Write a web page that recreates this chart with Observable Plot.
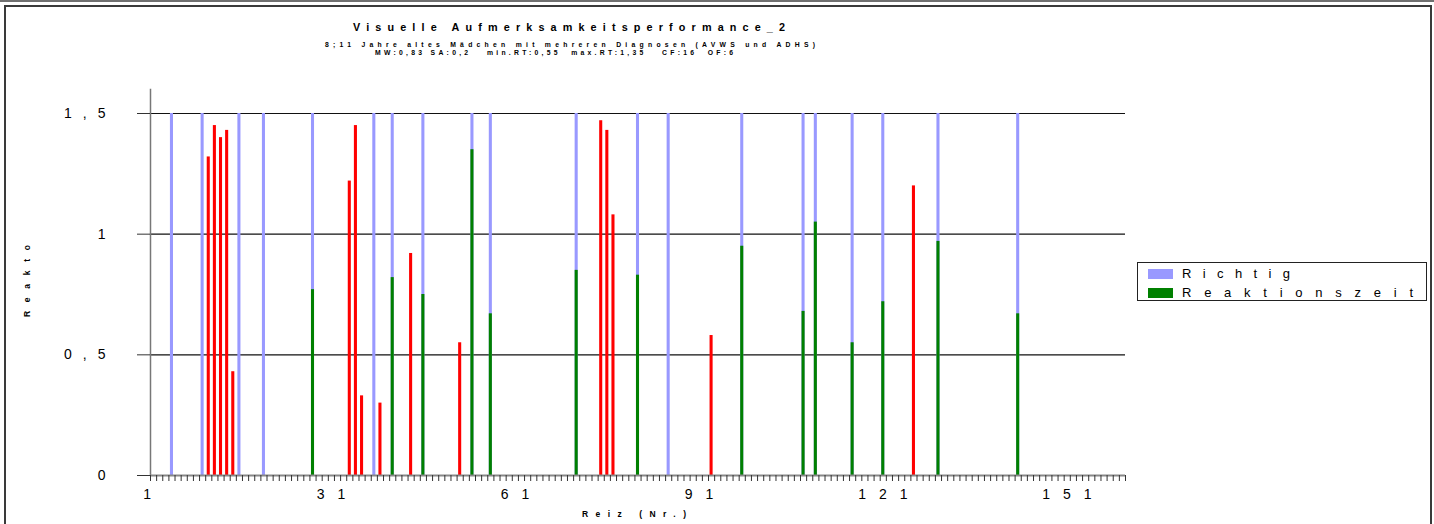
<!DOCTYPE html>
<html><head><meta charset="utf-8">
<script src="https://cdn.jsdelivr.net/npm/d3@7"></script>
<script src="https://cdn.jsdelivr.net/npm/@observablehq/plot@0.6"></script>
<style>
html,body{margin:0;padding:0;background:#fff;}
body{width:1434px;height:524px;position:relative;overflow:hidden;font-family:"Liberation Sans",Arial,sans-serif;color:#000;}
.t{position:absolute;white-space:pre;line-height:1;}
.b{font-weight:bold;}
#chart{position:absolute;left:0;top:0;}
</style></head><body>
<div id="chart"></div>
<div style="position:absolute;left:0;top:0;width:1434px;height:2px;background:#707070"></div>
<div style="position:absolute;left:4px;top:5px;width:1424px;height:600px;border:2px solid #3a3a3a;pointer-events:none"></div>
<script>
// ---- Texte ----
const titel = "Visuelle Aufmerksamkeitsperformance_2";
const untertitel = "8;11 Jahre altes Mädchen mit mehreren Diagnosen (AVWS und ADHS)";
const kennwerte = "MW:0,83 SA:0,2   min.RT:0,55  max.RT:1,35   CF:16  OF:6";
const yTitel = "Reakto";
const xTitel = "Reiz (Nr.)";
// ---- Serien ----
const serienNamen = ["Richtig", "Reaktionszeit"];
const serienFarben = ["#9999FF", "#008000"];
const fehlerFarbe = "#FF0000";
// ---- Achsen ----
const reizAnzahl = 159;
const xTickWerte = [1, 31, 61, 91, 121, 151];
const yTickWerte = [0, 0.5, 1, 1.5];
// ---- Daten ----
const richtigNr   = [4, 9, 15, 19, 27, 37, 40, 45, 53, 56, 70, 80, 85, 97, 107, 109, 115, 120, 129, 142];
const richtigWert = [1.5, 1.5, 1.5, 1.5, 1.5, 1.5, 1.5, 1.5, 1.5, 1.5, 1.5, 1.5, 1.5, 1.5, 1.5, 1.5, 1.5, 1.5, 1.5, 1.5];
const reaktionNr    = [27, 40, 45, 53, 56, 70, 80, 97, 107, 109, 115, 120, 129, 142];
const reaktionszeit = [0.77, 0.82, 0.75, 1.35, 0.67, 0.85, 0.83, 0.95, 0.68, 1.05, 0.55, 0.72, 0.97, 0.67];
const fehlerNr = [10, 11, 12, 13, 14, 33, 34, 35, 38, 43, 51, 74, 75, 76, 92, 125];
const fehlerRT = [1.32, 1.45, 1.40, 1.43, 0.43, 1.22, 1.45, 0.33, 0.30, 0.92, 0.55, 1.47, 1.43, 1.08, 0.58, 1.20];

const richtig = richtigNr.map((nr, i) => ({nr, v: richtigWert[i]}));
const reaktion = reaktionNr.map((nr, i) => ({nr, v: reaktionszeit[i]}));
const fehler = fehlerNr.map((nr, i) => ({nr, v: fehlerRT[i]}));
const halb = 0.25;
const barOpts = (fill) => ({x1: d => d.nr - halb, x2: d => d.nr + halb, y1: 0, y2: "v", fill});

const plot = Plot.plot({
  width: 1434, height: 524,
  marginLeft: 150, marginRight: 309, marginTop: 113, marginBottom: 49,
  style: {fontFamily: '"Liberation Sans", Arial, sans-serif', fontSize: "14px", background: "transparent", overflow: "visible"},
  x: {domain: [0.5, reizAnzahl + 0.5]},
  y: {domain: [0, 1.5]},
  marks: [
    Plot.ruleY(yTickWerte.filter(d => d > 0), {stroke: "#111", strokeWidth: 1.2}),
    Plot.ruleX([0.5], {y1: 0, y2: 1.6, stroke: "#777", strokeWidth: 1.5}),
    Plot.rect(richtig, barOpts(serienFarben[0])),
    Plot.rect(reaktion, barOpts(serienFarben[1])),
    Plot.rect(fehler, barOpts(fehlerFarbe)),
    Plot.ruleY([0], {stroke: "#888", strokeWidth: 2}),
    Plot.axisX(d3.range(0, reizAnzahl + 1).map(i => i + 0.5), {tickSize: 6, tickFormat: () => "", stroke: "#333", label: null}),
    Plot.axisX(xTickWerte, {tickSize: 0, tickPadding: 14, label: null, fontSize: 14}),
    Plot.axisY(yTickWerte, {tickSize: 13, tickPadding: 21, stroke: "#333", tickFormat: d => String(d).replace(".", ","), label: null, fontSize: 14})
  ]
});
document.getElementById("chart").appendChild(plot);
const s = d3.select(plot);
s.selectAll('g[aria-label="x-axis tick label"] text').attr("letter-spacing", "13px");
s.selectAll('g[aria-label="y-axis tick label"] text').attr("letter-spacing", "11px");

// ---- HTML-Texte mit Sperrung ----
function setze(text, x, top, size, breite, bold, rot) {
  const el = document.createElement("div");
  el.className = "t" + (bold ? " b" : "");
  el.textContent = text;
  el.style.fontSize = size + "px";
  el.style.left = x + "px";
  el.style.top = top + "px";
  document.body.appendChild(el);
  const nat = el.getBoundingClientRect().width;
  el.style.letterSpacing = ((breite - nat) / (text.length - 1)) + "px";
  if (rot) { el.style.transformOrigin = "0 0"; el.style.transform = "rotate(-90deg)"; }
  return el;
}
setze(titel, 353, 21.5, 10.8, 432, true);
setze(untertitel, 325, 42, 6.8, 490, true);
setze(kennwerte, 375, 49.5, 6.8, 358, true);
setze(yTitel, 23, 317, 8.5, 72, true, true);
setze(xTitel, 582, 510, 8.5, 104, true);

// ---- Legende ----
const leg = document.createElement("div");
leg.style.cssText = "position:absolute;left:1137px;top:262px;width:290px;height:39px;box-sizing:border-box;border:1px solid #222;";
document.body.appendChild(leg);
const legZeilen = [{top: 269, h: 9.5, tt: 267, w: 108}, {top: 288, h: 10, tt: 286, w: 231}];
serienNamen.forEach((name, i) => {
  const sw = document.createElement("div");
  sw.style.cssText = `position:absolute;left:1148px;top:${legZeilen[i].top}px;width:25px;height:${legZeilen[i].h}px;background:${serienFarben[i]}`;
  document.body.appendChild(sw);
  setze(name, 1182, legZeilen[i].tt, 13, legZeilen[i].w, false);
});
</script>
</body></html>
